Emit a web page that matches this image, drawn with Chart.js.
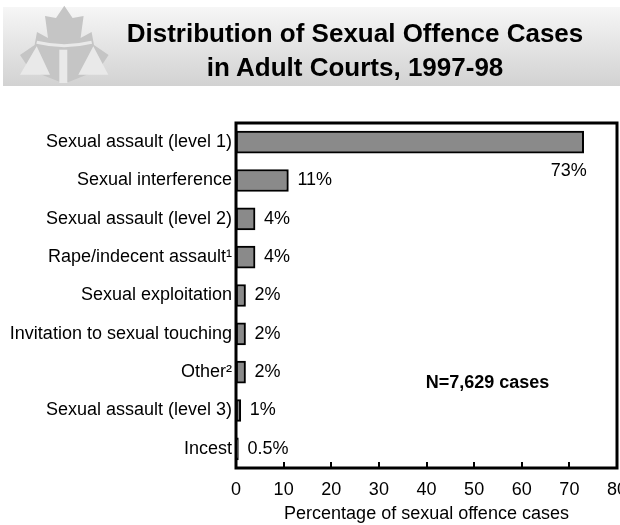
<!DOCTYPE html>
<html>
<head>
<title>Sexual offence cases - Adult Courts</title>
<script src="https://cdn.jsdelivr.net/npm/chart.js@4.4.2/dist/chart.umd.min.js"></script>
<style>
html, body {
    margin: 0;
    padding: 0;
    width: 620px;
    height: 525px;
    overflow: hidden;
    background: #fff;
    font-family: "Liberation Sans", Arial, sans-serif;
}
#header {
    position: absolute;
    left: 3px;
    top: 7px;
    width: 617px;
    height: 79px;
    background: linear-gradient(to bottom, #f6f6f6, #d2d2d2);
}
#logo {
    position: absolute;
    left: -3px;
    top: -7px;
}
#title {
    position: absolute;
    left: 0;
    top: 9px;
    width: 704px;
    text-align: center;
    font-weight: bold;
    font-size: 26px;
    line-height: 34px;
    color: #000;
}
#chartBox {
    position: absolute;
    left: 0;
    top: 95px;
    width: 640px;
    height: 430px;
}
</style>
</head>
<body>
<div id="header">
    <canvas id="logo" width="120" height="90"></canvas>
    <div id="title">Distribution of Sexual Offence Cases<br>in Adult Courts, 1997-98</div>
</div>
<div id="chartBox">
    <canvas id="chart"></canvas>
</div>
<script>
const offences = [
    "Sexual assault (level 1)",
    "Sexual interference",
    "Sexual assault (level 2)",
    "Rape/indecent assault\u00b9",
    "Sexual exploitation",
    "Invitation to sexual touching",
    "Other\u00b2",
    "Sexual assault (level 3)",
    "Incest"
];
const percentages = [73, 11, 4, 4, 2, 2, 2, 1, 0.5];
const xTicks = [0, 10, 20, 30, 40, 50, 60, 70, 80];
const caseCount = "N=7,629 cases";
const axisTitle = "Percentage of sexual offence cases";

const FONT = "'Liberation Sans', Arial, sans-serif";
const SIZE = 18;

// header emblem: maple leaf with scales of justice
const drawLogo = () => {
    const g = document.getElementById("logo").getContext("2d");
    const leaf = [
        [64.3, 5.7], [72.6, 18], [83.6, 16], [80.6, 38], [91.6, 32],
        [94, 45], [108.6, 55], [98.6, 70], [78.6, 78], [68.6, 82],
        [60, 82], [50, 78], [30, 70], [20, 55], [34.6, 45], [37, 32],
        [48, 38], [45, 16], [56, 18]
    ];
    g.fillStyle = "#c5c5c5";
    g.beginPath();
    leaf.forEach(([x, y], i) => i ? g.lineTo(x, y) : g.moveTo(x, y));
    g.closePath();
    g.fill();

    g.fillStyle = "#e9e9e9";
    g.beginPath();
    g.moveTo(36.7, 46.3); g.lineTo(20, 74.7); g.lineTo(50, 74.7); g.closePath();
    g.moveTo(93.3, 46.3); g.lineTo(78.3, 74.7); g.lineTo(108.3, 74.7); g.closePath();
    g.fill();
    g.fillRect(59.3, 49.7, 8, 33.3);

    g.strokeStyle = "#e9e9e9";
    g.lineWidth = 3;
    g.beginPath();
    g.moveTo(36.7, 42.3);
    g.quadraticCurveTo(64.3, 49, 91.7, 42.3);
    g.stroke();
};
drawLogo();

// frame, inner tick marks, value labels and case count
const annotate = {
    id: "annotate",
    afterDatasetsDraw(chart) {
        const { ctx, chartArea: a, scales } = chart;
        ctx.save();
        ctx.strokeStyle = "#000";
        ctx.lineWidth = 3;
        ctx.strokeRect(a.left, a.top, a.right - a.left, a.bottom - a.top);

        ctx.lineWidth = 2;
        ctx.beginPath();
        xTicks.slice(1, -1).forEach(v => {
            const x = Math.round(scales.x.getPixelForValue(v));
            ctx.moveTo(x, a.bottom);
            ctx.lineTo(x, a.bottom - 6);
        });
        ctx.stroke();

        ctx.fillStyle = "#000";
        ctx.font = SIZE + "px " + FONT;
        ctx.textBaseline = "middle";
        chart.getDatasetMeta(0).data.forEach((bar, i) => {
            const text = percentages[i] + "%";
            if (i === 0) {
                ctx.textAlign = "right";
                ctx.fillText(text, bar.x + 3, bar.y + 29);
            } else {
                ctx.textAlign = "left";
                ctx.fillText(text, bar.x + 9, bar.y);
            }
        });

        ctx.font = "bold " + SIZE + "px " + FONT;
        ctx.textAlign = "center";
        ctx.fillText(caseCount, scales.x.getPixelForValue(52.8), scales.y.getPixelForValue(6) + 11);
        ctx.restore();
    }
};

const chart = new Chart(document.getElementById("chart"), {
    type: "bar",
    data: {
        labels: offences,
        datasets: [{
            data: percentages,
            backgroundColor: "#8a8a8a",
            borderColor: "#000",
            borderWidth: 2,
            borderSkipped: false,
            barThickness: 22
        }]
    },
    options: {
        indexAxis: "y",
        responsive: true,
        maintainAspectRatio: false,
        animation: false,
        events: [],
        layout: {
            padding: { top: 28, right: 23, left: 0, bottom: 0 }
        },
        plugins: {
            legend: { display: false },
            tooltip: { enabled: false }
        },
        scales: {
            x: {
                min: 0,
                max: 80,
                afterBuildTicks: scale => {
                    scale.ticks = xTicks.map(v => ({ value: v }));
                },
                afterFit: scale => { scale.height = 57; },
                grid: { display: false, drawTicks: false },
                border: { display: false },
                ticks: {
                    color: "#000",
                    padding: 11,
                    maxRotation: 0,
                    font: { family: FONT, size: SIZE }
                },
                title: {
                    display: true,
                    text: axisTitle,
                    color: "#000",
                    padding: { top: 0, bottom: 0 },
                    font: { family: FONT, size: SIZE }
                }
            },
            y: {
                afterFit: scale => { scale.width = 236; },
                grid: { display: false, drawTicks: false },
                border: { display: false },
                ticks: {
                    color: "#000",
                    padding: 4,
                    autoSkip: false,
                    font: { family: FONT, size: SIZE }
                }
            }
        }
    },
    plugins: [annotate]
});
</script>
</body>
</html>
